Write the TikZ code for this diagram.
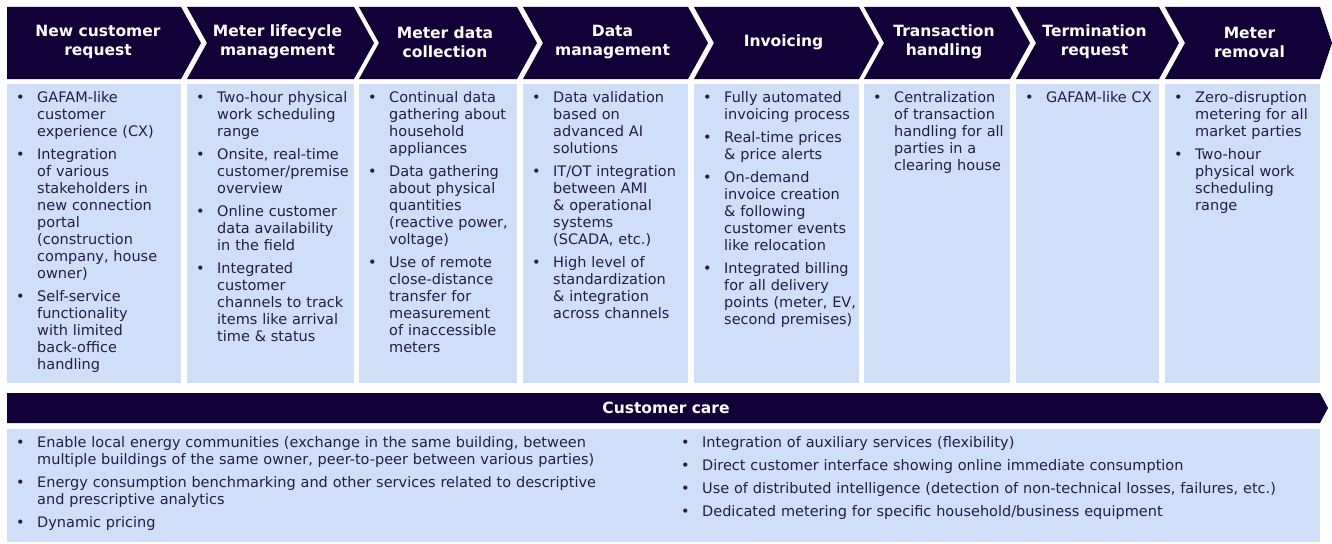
\documentclass[tikz,border=0pt]{standalone}
\usepackage{fontspec}
\setmainfont{DejaVu Sans}
\usepackage{tikz}
\usepackage{xcolor}
\definecolor{HeadNavy}{HTML}{100037}
\definecolor{BoxBlue}{HTML}{D0DFF8}
\definecolor{TextNavy}{HTML}{221C4E}
\newcommand\itm[1]{\par{\let\\\newline\hangindent=21pt\hangafter=1\noindent\makebox[21pt][l]{\textbullet}#1\par}\vspace{6pt}}

\begin{document}
\begin{tikzpicture}[x=1pt,y=-1pt,
    head/.style={fill=HeadNavy},
    body/.style={fill=BoxBlue},
    headtext/.style={text=white,align=center,font=\fontsize{15.5}{19}\selectfont\bfseries},
    coltext/.style={anchor=base west,inner sep=0pt,text=TextNavy,align=left,text width=#1,font=\fontsize{14.5}{17}\selectfont}]
    \useasboundingbox (0,0) rectangle (1332,543);

    \foreach \L/\R/\d/\tip/\dx/\n/\t in {
        7/181/0/20/4/req/{New customer\\request},
        187/354/20/20/7/life/{Meter lifecycle\\management},
        359/517/20/20/7/coll/{Meter data\\collection},
        523/688/20/20/7/dm/{Data\\management},
        694/859/20/20/7/inv/{Invoicing},
        864/1010/20/20/7/trans/{Transaction\\handling},
        1016/1159/20/20/7/term/{Termination\\request},
        1165/1320/20/12/7/rem/{Meter\\removal}}{
        \fill[head] (\L,7) -- (\R,7) -- (\R+\tip,43) -- (\R,79) -- (\L,79) -- (\L+\d,43) -- cycle;
        \fill[body] (\L,84) rectangle (\R,383);
        \node[headtext] (h-\n) at ({(\L+\R)/2+\dx},42) {\t};
    }

    \node[coltext=150] (c-req) at (16,85) {%
        \itm{GAFAM-like\\customer\\experience (CX)}%
        \itm{Integration\\of various\\stakeholders in\\new connection\\portal\\(construction\\company, house\\owner)}%
        \itm{Self-service\\functionality\\with limited\\back-office\\handling}};
    \node[coltext=160] (c-life) at (196,85) {%
        \itm{Two-hour physical\\work scheduling\\range}%
        \itm{Onsite, real-time\\customer/premise\\overview}%
        \itm{Online customer\\data availability\\in the field}%
        \itm{Integrated\\customer\\channels to track\\items like arrival\\time \& status}};
    \node[coltext=150] (c-coll) at (368,85) {%
        \itm{Continual data\\gathering about\\household\\appliances}%
        \itm{Data gathering\\about physical\\quantities\\(reactive power,\\voltage)}%
        \itm{Use of remote\\close-distance\\transfer for\\measurement\\of inaccessible\\meters}};
    \node[coltext=158] (c-dm) at (532,85) {%
        \itm{Data validation\\based on\\advanced AI\\solutions}%
        \itm{IT/OT integration\\between AMI\\\& operational\\systems\\(SCADA, etc.)}%
        \itm{High level of\\standardization\\\& integration\\across channels}};
    \node[coltext=158] (c-inv) at (703,85) {%
        \itm{Fully automated\\invoicing process}%
        \itm{Real-time prices\\\& price alerts}%
        \itm{On-demand\\invoice creation\\\& following\\customer events\\like relocation}%
        \itm{Integrated billing\\for all delivery\\points (meter, EV,\\second premises)}};
    \node[coltext=140] (c-trans) at (873,85) {%
        \itm{Centralization\\of transaction\\handling for all\\parties in a\\clearing house}};
    \node[coltext=136] (c-term) at (1025,85) {%
        \itm{GAFAM-like CX}};
    \node[coltext=148] (c-rem) at (1174,85) {%
        \itm{Zero-disruption\\metering for all\\market parties}%
        \itm{Two-hour\\physical work\\scheduling\\range}};

    \fill[head] (7,393) -- (1320,393) -- (1328,408) -- (1320,423) -- (7,423) -- cycle;
    \fill[body] (7,429) rectangle (1320,542);
    \node[headtext] (h-care) at (666,408) {Customer care};

    \node[coltext=660] (care-l) at (16,430) {%
        \itm{Enable local energy communities (exchange in the same building, between\\multiple buildings of the same owner, peer-to-peer between various parties)}%
        \itm{Energy consumption benchmarking and other services related to descriptive\\and prescriptive analytics}%
        \itm{Dynamic pricing}};
    \node[coltext=640] (care-r) at (681,430) {%
        \itm{Integration of auxiliary services (flexibility)}%
        \itm{Direct customer interface showing online immediate consumption}%
        \itm{Use of distributed intelligence (detection of non-technical losses, failures, etc.)}%
        \itm{Dedicated metering for specific household/business equipment}};
\end{tikzpicture}
\end{document}
